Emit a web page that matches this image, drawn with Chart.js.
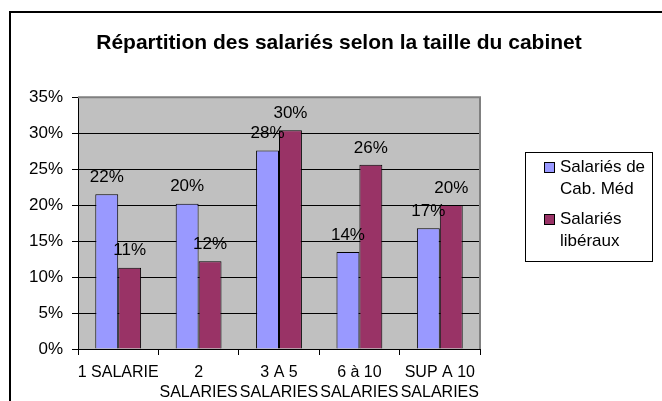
<!DOCTYPE html>
<html lang="fr">
<head>
  <meta charset="UTF-8">
  <title>Répartition des salariés</title>
  <script src="https://cdn.jsdelivr.net/npm/chart.js@4.4.1/dist/chart.umd.min.js"></script>
  <style>
    body { margin: 0; background: #fff; overflow: hidden; }
    .frame { position: absolute; left: 9px; top: 11px; width: 700px; height: 450px;
             border-top: 2px solid #000; border-left: 2px solid #000; }
    #salChart { position: absolute; left: 0; top: 0; }
  </style>
</head>
<body>
<div class="frame"></div>
<canvas id="salChart" width="662" height="401"></canvas>

<script>
  // categories (taille du cabinet)
  const categories = [['1 SALARIE'], ['2', 'SALARIES'], ['3 A 5', 'SALARIES'], ['6 à 10', 'SALARIES'], ['SUP A 10', 'SALARIES']];
  const medValues = [21.5, 20.2, 27.6, 13.5, 16.8];   // Salariés de Cab. Méd
  const libValues = [11.3, 12.2, 30.4, 25.6, 20.0];   // Salariés libéraux
  const seriesNames = [['Salariés de', 'Cab. Méd'], ['Salariés', 'libéraux']];
  const yTicks = [0, 5, 10, 15, 20, 25, 30, 35];

  const FONT = 'Arial, "Liberation Sans", sans-serif';
  const colors = ['#9999ff', '#993366'];

  // grey plot background + grey top/right border
  const plotArea = {
    id: 'plotArea',
    beforeDraw(chart) {
      const a = chart.chartArea, ctx = chart.ctx;
      ctx.save();
      ctx.fillStyle = '#c0c0c0';
      ctx.fillRect(a.left, a.top, a.right - a.left, a.bottom - a.top);
      ctx.restore();
    },
    beforeDatasetsDraw(chart) {
      const a = chart.chartArea, ctx = chart.ctx;
      ctx.save();
      ctx.strokeStyle = '#808080';
      ctx.lineWidth = 2;
      ctx.beginPath();
      ctx.moveTo(a.left, a.top);
      ctx.lineTo(a.right, a.top);
      ctx.lineTo(a.right, a.bottom);
      ctx.stroke();
      ctx.restore();
    }
  };

  // percentage labels above each bar
  const barLabels = {
    id: 'barLabels',
    afterDatasetsDraw(chart) {
      const ctx = chart.ctx;
      ctx.save();
      ctx.font = '17px ' + FONT;
      ctx.fillStyle = '#000';
      ctx.textAlign = 'center';
      ctx.textBaseline = 'middle';
      chart.data.datasets.forEach((ds, i) => {
        chart.getDatasetMeta(i).data.forEach((bar, j) => {
          ctx.fillText(Math.round(ds.data[j]) + '%', bar.x, bar.y - 17);
        });
      });
      ctx.restore();
    }
  };

  // boxed legend on the right, with two-line labels
  const sideLegend = {
    id: 'sideLegend',
    afterDraw(chart) {
      const ctx = chart.ctx;
      const bx = 525, by = 152, bw = 127, bh = 109;
      ctx.save();
      ctx.fillStyle = '#fff';
      ctx.fillRect(bx, by, bw, bh);
      ctx.strokeStyle = '#000';
      ctx.lineWidth = 1;
      ctx.strokeRect(bx + 0.5, by + 0.5, bw, bh);
      ctx.font = '17px ' + FONT;
      ctx.textBaseline = 'middle';
      ctx.textAlign = 'left';
      seriesNames.forEach((lines, i) => {
        const y0 = 167 + i * 52;
        ctx.fillStyle = colors[i];
        ctx.fillRect(544, y0 - 5, 11, 11);
        ctx.strokeRect(544.5, y0 - 4.5, 10, 10);
        ctx.fillStyle = '#000';
        lines.forEach((t, k) => ctx.fillText(t, 560, y0 + k * 22));
      });
      ctx.restore();
    }
  };

  new Chart(document.getElementById('salChart'), {
    type: 'bar',
    data: {
      labels: categories,
      datasets: [
        { label: seriesNames[0].join(' '), data: medValues, backgroundColor: colors[0],
          borderColor: '#000', borderWidth: 1, categoryPercentage: 0.57, barPercentage: 1 },
        { label: seriesNames[1].join(' '), data: libValues, backgroundColor: colors[1],
          borderColor: '#000', borderWidth: 1, categoryPercentage: 0.57, barPercentage: 1 }
      ]
    },
    options: {
      responsive: false,
      animation: false,
      devicePixelRatio: 1,
      layout: { padding: { left: 16, right: 0, top: 0, bottom: 0 } },
      plugins: {
        legend: { display: false },
        tooltip: { enabled: false },
        title: {
          display: true,
          text: 'Répartition des salariés selon la taille du cabinet',
          color: '#000',
          font: { family: FONT, size: 21, weight: 'bold' },
          padding: { top: 31, bottom: 41 }
        }
      },
      scales: {
        x: {
          grid: { drawOnChartArea: false, drawTicks: true, tickLength: 6, tickColor: '#000', offset: true },
          border: { color: '#000', width: 1 },
          ticks: { color: '#000', font: { family: FONT, size: 16, lineHeight: 1.25 },
                   padding: 8, maxRotation: 0, autoSkip: false },
          afterFit(s) { s.height = 52; }
        },
        y: {
          min: 0, max: 35,
          afterBuildTicks(s) { s.ticks = yTicks.map(v => ({ value: v })); },
          grid: { color: '#000', lineWidth: 1, tickLength: 6, tickColor: '#000' },
          border: { color: '#000', width: 1 },
          ticks: { color: '#000', font: { family: FONT, size: 17 }, padding: 9,
                   callback: v => v + '%' },
          afterFit(s) { s.width = 62; }
        },
        yR: {
          position: 'right',
          display: true,
          grid: { display: false },
          border: { display: false },
          ticks: { display: false },
          afterFit(s) { s.width = 182; }
        }
      }
    },
    plugins: [plotArea, barLabels, sideLegend]
  });
</script>
</body>
</html>
